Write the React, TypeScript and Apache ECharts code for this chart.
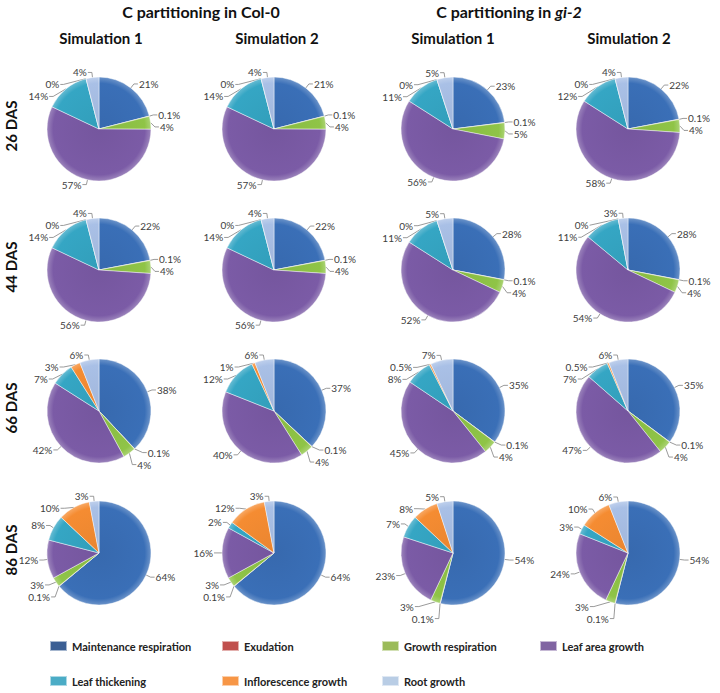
import React, { useEffect, useRef } from "react";
import * as echarts from "echarts";

const categories = [
  "Maintenance respiration",
  "Exudation",
  "Growth respiration",
  "Leaf area growth",
  "Leaf thickening",
  "Inflorescence growth",
  "Root growth",
];

const rowLabels = ["26 DAS", "44 DAS", "66 DAS", "86 DAS"];
const columnTitles = ["Simulation 1", "Simulation 2", "Simulation 1", "Simulation 2"];

// values per row (26, 44, 66, 86 DAS), in category order
const col0Sim1 = [
  [21, 0.1, 4, 57, 14, 0, 4],
  [22, 0.1, 4, 56, 14, 0, 4],
  [38, 0.1, 4, 42, 7, 3, 6],
  [64, 0.1, 3, 12, 8, 10, 3],
];
const col0Sim2 = [
  [21, 0.1, 4, 57, 14, 0, 4],
  [22, 0.1, 4, 56, 14, 0, 4],
  [37, 0.1, 4, 40, 12, 1, 6],
  [64, 0.1, 3, 16, 2, 12, 3],
];
const gi2Sim1 = [
  [23, 0.1, 5, 56, 11, 0, 5],
  [28, 0.1, 4, 52, 11, 0, 5],
  [35, 0.1, 4, 45, 8, 0.5, 7],
  [54, 0.1, 3, 23, 7, 8, 5],
];
const gi2Sim2 = [
  [22, 0.1, 4, 58, 12, 0, 4],
  [28, 0.1, 4, 54, 11, 0, 3],
  [35, 0.1, 4, 47, 7, 0.5, 6],
  [54, 0.1, 3, 24, 3, 10, 6],
];

const pieColors = ["#3a6fb7", "#c0504d", "#8fc447", "#7b5ba6", "#35a6c4", "#f58c32", "#a9c0e6"];
const legendColors = ["#3b5f94", "#c0504d", "#9bbb59", "#8064a2", "#4bacc6", "#f79646", "#b9cde5"];

const FONT = "Lato, 'Open Sans', sans-serif";

function shade(hex: string, f: number) {
  const n = parseInt(hex.slice(1), 16);
  let r = (n >> 16) & 255, g = (n >> 8) & 255, b = n & 255;
  const adj = (c: number) => Math.max(0, Math.min(255, Math.round(f < 0 ? c * (1 + f) : c + (255 - c) * f)));
  r = adj(r); g = adj(g); b = adj(b);
  return "rgb(" + r + "," + g + "," + b + ")";
}

export default function App() {
  const ref = useRef<HTMLDivElement>(null);
  useEffect(() => {
    document.body.style.margin = "0";
    const chart = echarts.init(ref.current!, undefined, { renderer: "svg" });
    const columns = [col0Sim1, col0Sim2, gi2Sim1, gi2Sim2];
    const colX = [99, 274, 453, 628];
    const rowY = [129, 270, 411, 553];
    const R = 52;

    const series: any[] = [];
    columns.forEach((col, ci) => {
      col.forEach((vals, ri) => {
        const cx = colX[ci];
        const cy = rowY[ri];
        series.push({
          type: "pie",
          center: [cx, cy],
          radius: R,
          startAngle: 90,
          clockwise: true,
          avoidLabelOverlap: true,
          label: {
            show: true,
            position: "outside",
            formatter: "{c}%",
            fontSize: 10,
            fontFamily: FONT,
            color: "#404040",
            distanceToLabelLine: 1,
            overflow: "none",
          },
          labelLine: {
            show: true,
            length: 5,
            length2: 4,
            lineStyle: { color: "#808080", width: 0.8 },
          },
          emphasis: { disabled: true },
          itemStyle: { borderColor: "rgba(255,255,255,0.55)", borderWidth: 0.8 },
          data: vals.map((v, k) => ({
            name: categories[k],
            value: v,
            itemStyle: {
              color: {
                type: "radial",
                x: cx,
                y: cy,
                r: R,
                global: true,
                colorStops: [
                  { offset: 0, color: shade(pieColors[k], -0.05) },
                  { offset: 0.88, color: pieColors[k] },
                  { offset: 1, color: shade(pieColors[k], 0.25) },
                ],
              },
            },
          })),
        });
      });
    });

    const legendPos = [
      [49, 640], [221, 640], [381, 640], [539, 640],
      [49, 675], [221, 675], [381, 675],
    ];
    const legend = categories.map((name, k) => ({
      left: legendPos[k][0],
      top: legendPos[k][1],
      padding: 0,
      itemWidth: 17,
      itemHeight: 10,
      selectedMode: false,
      icon: "rect",
      textStyle: { fontFamily: FONT, fontSize: 11, fontWeight: "bold", color: "#222" },
      data: [{ name, itemStyle: { color: legendColors[k] } }],
    }));

    const titles: any[] = [
      {
        text: "C partitioning in Col-0",
        left: 201,
        top: 3,
        padding: 0,
        textAlign: "center",
        textStyle: { fontFamily: FONT, fontSize: 16, fontWeight: "bold", color: "#111" },
      },
      {
        text: "C partitioning in {i|gi-2}",
        left: 509,
        top: 3,
        padding: 0,
        textAlign: "center",
        textStyle: {
          fontFamily: FONT,
          fontSize: 16,
          fontWeight: "bold",
          color: "#111",
          rich: { i: { fontFamily: FONT, fontSize: 16, fontWeight: "bold", fontStyle: "italic", color: "#111" } },
        },
      },
    ];
    const titleX = [101, 277, 453, 629];
    columnTitles.forEach((t, i) => {
      titles.push({
        text: t,
        left: titleX[i],
        top: 30,
        padding: 0,
        textAlign: "center",
        textStyle: { fontFamily: FONT, fontSize: 15, fontWeight: "bold", color: "#111" },
      });
    });

    const graphic = rowLabels.map((t, i) => ({
      type: "text",
      x: 11,
      y: rowY[i] - 3,
      rotation: Math.PI / 2,
      style: {
        text: t,
        fontFamily: FONT,
        fontSize: 15,
        fontWeight: "bold",
        fill: "#111",
        textAlign: "center",
        textVerticalAlign: "middle",
      },
    }));

    chart.setOption({
      animation: false,
      backgroundColor: "#ffffff",
      title: titles,
      legend,
      graphic,
      series,
    });
    return () => chart.dispose();
  }, []);
  return <div ref={ref} style={{ width: 720, height: 693 }} />;
}
